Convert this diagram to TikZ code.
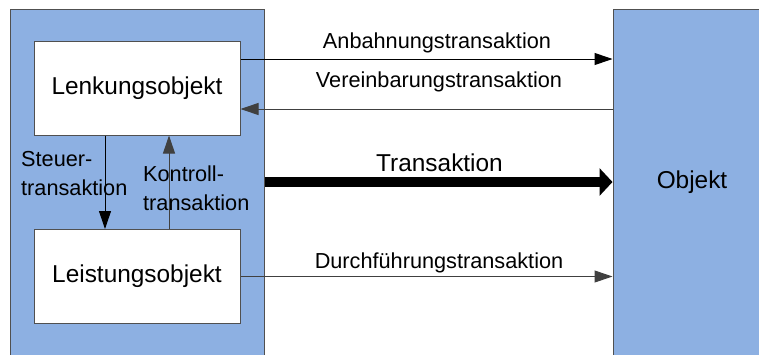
\documentclass[tikz,border=0pt]{standalone}
\usepackage{fontspec}
\setmainfont{Liberation Sans}
\usetikzlibrary{arrows.meta}
\definecolor{bluefill}{RGB}{141,176,226}
\definecolor{edge}{RGB}{80,80,80}
\begin{document}
\begin{tikzpicture}[x=1pt,y=-1pt,
  bluebox/.style={draw=edge,fill=bluefill,line width=1pt,minimum width=#1,minimum height=346pt,inner sep=0pt},
  whitebox/.style={draw=edge,fill=white,line width=1pt,minimum width=206pt,minimum height=94pt,inner sep=0pt,font=\fontsize{24.4}{28}\selectfont},
  big/.style={font=\fontsize{24.4}{28}\selectfont,inner sep=0pt},
  small/.style={font=\fontsize{21.7}{27}\selectfont,inner sep=0pt},
  conn/.style={line width=1pt,-{Triangle[length=18pt,width=12pt]}},
  thick conn/.style={line width=9.5pt,-{Triangle[length=13pt,width=27pt]}}
]
\useasboundingbox (0,0) rectangle (759,354);
\clip (0,0) rectangle (759,354);
\node[bluebox=254pt] (LB) at (137,182) {};
\node[bluebox=158pt,big] (O) at (692,182) {Objekt};
\node[whitebox] (L) at (137,88) {Lenkungsobjekt};
\node[whitebox] (P) at (137,276.5) {Leistungsobjekt};
% connectors
\draw[conn,black] (L.east |- 0,59) -- (O.west |- 0,59);
\draw[conn,black!75] (O.west |- 0,109) -- (L.east |- 0,109);
\draw[thick conn] (LB.east) -- (O.west);
\draw[conn,black!75] (P.east) -- (O.west |- P.east);
\draw[conn,black] (L.south -| 105,0) -- (P.north -| 105,0);
\draw[conn,black!75] (P.north -| 169,0) -- (L.south -| 169,0);
% labels
\node[small,anchor=base] (la) at (437,48) {Anbahnungstransaktion};
\node[small,anchor=base] (lv) at (439,87) {Vereinbarungstransaktion};
\node[big,anchor=base] (lt) at (439.5,171) {Transaktion};
\node[small,anchor=base] (ld) at (439,268) {Durchführungstransaktion};
\node[small,anchor=base west,align=left] (ls) at (21,195) {Steuer-\\[2pt]transaktion};
\node[small,anchor=base west,align=left] (lk) at (143,210) {Kontroll-\\[2pt]transaktion};
\end{tikzpicture}
\end{document}
